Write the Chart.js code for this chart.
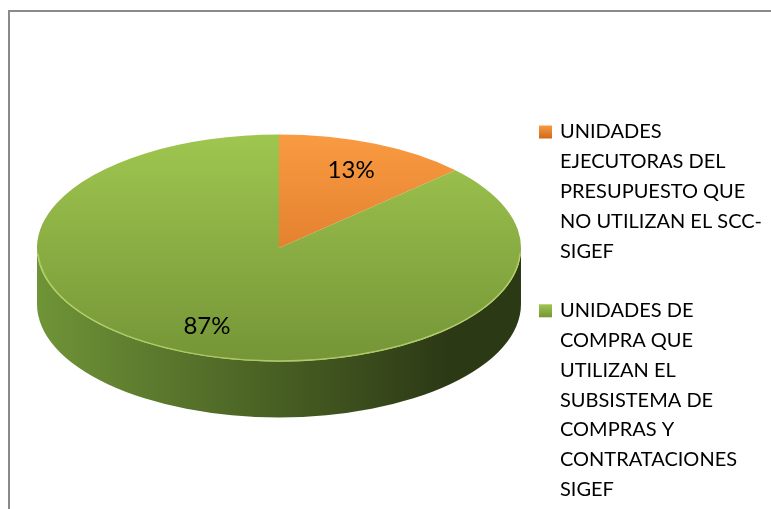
<!DOCTYPE html>
<html>
<head>
<meta charset="utf-8">
<script src="https://cdn.jsdelivr.net/npm/chart.js@4.4.1/dist/chart.umd.min.js"></script>
<style>
  html, body { margin: 0; padding: 0; background: #fff; }
</style>
</head>
<body>
<canvas id="pieChart" width="771" height="509"></canvas>
<script>
// Categories (legend text, one entry per line) and shares in percent
const categories = [
    ['UNIDADES', 'EJECUTORAS DEL', 'PRESUPUESTO QUE', 'NO UTILIZAN EL SCC-', 'SIGEF'],
    ['UNIDADES DE', 'COMPRA QUE', 'UTILIZAN EL', 'SUBSISTEMA DE', 'COMPRAS Y', 'CONTRATACIONES', 'SIGEF']
];
const shares = [13, 87];

// Colours: top face gradient [top, bottom], side gradient [left, right]
const topColors = [['#f99b42', '#cf681c'], ['#9fc64f', '#759537']];
const sideColors = [['#c9651c', '#7a3a0c'], ['#6f9437', '#2c3915']];

const TILT = 0.469;   // vertical squash of the pie face
const DEPTH = 56;     // thickness of the side

function arcProps(arc) {
    return arc.getProps(['x', 'y', 'startAngle', 'endAngle', 'outerRadius'], true);
}

// draws the 3d side, squashes the top face and puts the labels on it
const tiltedPie = {
    id: 'tiltedPie',
    beforeDatasetsDraw(chart) {
        const ctx = chart.ctx;
        const meta = chart.getDatasetMeta(0);
        meta.data.forEach((arc, i) => {
            const p = arcProps(arc);
            const rx = p.outerRadius;
            const ry = p.outerRadius * TILT;
            for (let k = -1; k <= 1; k++) {
                const a0 = Math.max(p.startAngle, k * 2 * Math.PI);
                const a1 = Math.min(p.endAngle, k * 2 * Math.PI + Math.PI);
                if (a1 <= a0) continue;
                const g = ctx.createLinearGradient(p.x - rx, 0, p.x + rx, 0);
                g.addColorStop(0, sideColors[i][0]);
                g.addColorStop(0.85, sideColors[i][1]);
                g.addColorStop(1, sideColors[i][1]);
                ctx.beginPath();
                ctx.ellipse(p.x, p.y, rx, ry, 0, a0, a1);
                ctx.ellipse(p.x, p.y + DEPTH, rx, ry, 0, a1, a0, true);
                ctx.closePath();
                ctx.fillStyle = g;
                ctx.fill();
            }
        });
        const cy = meta.data[0].y;
        ctx.save();
        ctx.translate(0, cy);
        ctx.scale(1, TILT);
        ctx.translate(0, -cy);
    },
    afterDatasetsDraw(chart) {
        const ctx = chart.ctx;
        ctx.restore();
        const meta = chart.getDatasetMeta(0);
        const p0 = arcProps(meta.data[0]);

        // light rim on the front edge of the face
        ctx.save();
        ctx.beginPath();
        ctx.ellipse(p0.x, p0.y, p0.outerRadius - 0.5, p0.outerRadius * TILT - 0.5, 0, 0.05, Math.PI - 0.05);
        ctx.strokeStyle = 'rgba(185, 215, 110, 0.8)';
        ctx.lineWidth = 1.5;
        ctx.stroke();
        ctx.restore();

        // percentage labels
        const total = shares.reduce((a, b) => a + b, 0);
        ctx.save();
        ctx.font = '24px Lato';
        ctx.fillStyle = '#000';
        ctx.textAlign = 'center';
        ctx.textBaseline = 'middle';
        meta.data.forEach((arc, i) => {
            const p = arcProps(arc);
            const mid = (p.startAngle + p.endAngle) / 2;
            const r = p.outerRadius * 0.75;
            const lx = p.x + Math.cos(mid) * r;
            const ly = p.y + Math.sin(mid) * r * TILT;
            ctx.fillText(Math.round(shares[i] / total * 100) + '%', lx, ly);
        });
        ctx.restore();
    }
};

// frame and wrapped legend on the right
const sideLegend = {
    id: 'sideLegend',
    afterDraw(chart) {
        const ctx = chart.ctx;
        ctx.save();
        ctx.strokeStyle = '#8a8a8a';
        ctx.lineWidth = 2;
        ctx.beginPath();
        ctx.moveTo(9, chart.height);
        ctx.lineTo(9, 11);
        ctx.lineTo(chart.width, 11);
        ctx.stroke();

        const boxX = 539, textX = 560, lineH = 29.8, box = 13;
        let y = 132;
        ctx.font = '20px Lato';
        ctx.textBaseline = 'middle';
        ctx.textAlign = 'left';
        chart.data.labels.forEach((lines, i) => {
            const g = ctx.createLinearGradient(0, y - box / 2, 0, y + box / 2);
            g.addColorStop(0, topColors[i][0]);
            g.addColorStop(1, topColors[i][1]);
            ctx.fillStyle = g;
            ctx.fillRect(boxX, y - box / 2, box, box);
            ctx.fillStyle = '#000';
            lines.forEach((line, j) => {
                ctx.fillText(line, textX, y + j * lineH);
            });
            y += (lines.length + 1) * lineH;
        });
        ctx.restore();
    }
};

new Chart(document.getElementById('pieChart').getContext('2d'), {
    type: 'pie',
    data: {
        labels: categories,
        datasets: [{
            data: shares,
            borderWidth: 0,
            clip: false,
            backgroundColor: function(context) {
                const chart = context.chart;
                const area = chart.chartArea;
                const c = topColors[context.dataIndex];
                if (!area) return c[0];
                const g = chart.ctx.createLinearGradient(0, area.top, 0, area.bottom);
                g.addColorStop(0, c[0]);
                g.addColorStop(1, c[1]);
                return g;
            }
        }]
    },
    options: {
        responsive: false,
        animation: false,
        events: [],
        layout: {
            padding: { left: 37, right: 250, top: 6, bottom: 19 }
        },
        plugins: {
            legend: { display: false },
            tooltip: { enabled: false }
        }
    },
    plugins: [tiltedPie, sideLegend]
});
</script>
</body>
</html>
